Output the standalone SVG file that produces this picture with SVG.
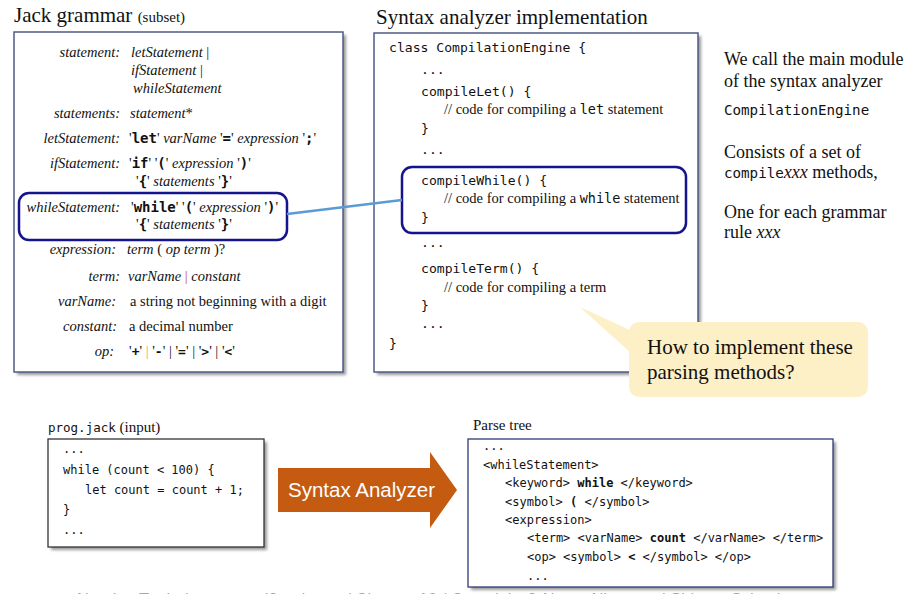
<svg xmlns="http://www.w3.org/2000/svg" width="913" height="594" viewBox="0 0 913 594">
<style>
.t{font-family:"Liberation Serif","Times New Roman",serif;fill:#111}
.i{font-style:italic}
.m{font-family:"DejaVu Sans Mono","Liberation Mono",monospace;fill:#111}
.b{font-weight:bold}
.g{font-size:14.5px}
.lbl{text-anchor:end}
.box{fill:#fff;stroke:#4f5b86;stroke-width:1.5}
.hl{fill:none;stroke:#14148c;stroke-width:2.5}
.sh{fill:#9a9a9a;filter:url(#blur)}
</style>
<defs>
<filter id="blur" x="-5%" y="-5%" width="110%" height="110%"><feGaussianBlur stdDeviation="1.5"/></filter>
</defs>

<!-- Left: Jack grammar -->
<g id="grammar">
<text class="t" x="14" y="22" font-size="21">Jack grammar <tspan font-size="15">(subset)</tspan></text>
<rect class="sh" x="17" y="35" width="329" height="340"/>
<rect class="box" x="14" y="32" width="329" height="340"/>
<g class="t g">
<text class="i lbl" x="120" y="57">statement:</text>
<text x="131" y="57"><tspan class="i">letStatement</tspan> |</text>
<text x="131" y="75"><tspan class="i">ifStatement</tspan> |</text>
<text class="i" x="133" y="93">whileStatement</text>
<text class="i lbl" x="120" y="118">statements:</text>
<text x="130" y="118"><tspan class="i">statement</tspan>*</text>
<text class="i lbl" x="120" y="143">letStatement:</text>
<text x="129" y="143">'<tspan class="m b" font-size="14">let</tspan>'  <tspan class="i">varName</tspan> '<tspan class="m b" font-size="14">=</tspan>'  <tspan class="i">expression</tspan> '<tspan class="m b" font-size="14">;</tspan>'</text>
<text class="i lbl" x="120" y="168">ifStatement:</text>
<text x="129" y="168">'<tspan class="m b" font-size="14">if</tspan>'  '<tspan class="m b" font-size="14">(</tspan>' <tspan class="i">expression</tspan> '<tspan class="m b" font-size="14">)</tspan>'</text>
<text x="136" y="186">'<tspan class="m b" font-size="14">{</tspan>' <tspan class="i">statements</tspan> '<tspan class="m b" font-size="14">}</tspan>'</text>
<text class="i lbl" x="120" y="212">whileStatement:</text>
<text x="131" y="212">'<tspan class="m b" font-size="14">while</tspan>'  '<tspan class="m b" font-size="14">(</tspan>' <tspan class="i">expression</tspan> '<tspan class="m b" font-size="14">)</tspan>'</text>
<text x="136" y="229">'<tspan class="m b" font-size="14">{</tspan>' <tspan class="i">statements</tspan> '<tspan class="m b" font-size="14">}</tspan>'</text>
<text class="i lbl" x="116" y="254">expression:</text>
<text x="127" y="254"><tspan class="i">term</tspan> ( <tspan class="i">op term</tspan> )?</text>
<text class="i lbl" x="120" y="281">term:</text>
<text x="128" y="281"><tspan class="i">varName</tspan> <tspan fill="#c0504d">|</tspan> <tspan class="i">constant</tspan></text>
<text class="i lbl" x="116" y="306">varName:</text>
<text x="130" y="306">a string not beginning with a digit</text>
<text class="i lbl" x="117" y="331">constant:</text>
<text x="129" y="331">a decimal number</text>
<text class="i lbl" x="114" y="356">op:</text>
<text x="129" y="356">'<tspan class="m b" font-size="13">+</tspan>' <tspan fill="#e0a060">|</tspan> '<tspan class="m b" font-size="13">-</tspan>' | '<tspan class="m b" font-size="13">=</tspan>' | '<tspan class="m b" font-size="13">&gt;</tspan>' | '<tspan class="m b" font-size="13">&lt;</tspan>'</text>
</g>
<rect id="whileRule" class="hl" x="19" y="193" width="268" height="47" rx="10"/>
</g>

<!-- Middle: implementation -->
<g id="implementation">
<text class="t" x="376" y="24" font-size="21">Syntax analyzer implementation</text>
<rect class="sh" x="377" y="36" width="324" height="339"/>
<rect class="box" x="374" y="33" width="324" height="339"/>
<g font-size="13.1">
<text class="m" x="389" y="52">class CompilationEngine {</text>
<text class="m" x="421" y="74">...</text>
<text class="m" x="421" y="96">compileLet() {</text>
<text class="t" x="444" y="114" font-size="14.5">// code for compiling a <tspan class="m" font-size="13.5">let</tspan> statement</text>
<text class="m" x="421" y="133">}</text>
<text class="m" x="421" y="154">...</text>
<text class="m" x="421" y="185">compileWhile() {</text>
<text class="t" x="444" y="203" font-size="14.5">// code for compiling a <tspan class="m" font-size="13.5">while</tspan> statement</text>
<text class="m" x="421" y="222">}</text>
<text class="m" x="421" y="247">...</text>
<text class="m" x="421" y="273">compileTerm() {</text>
<text class="t" x="444" y="292" font-size="14.5">// code for compiling a term</text>
<text class="m" x="421" y="310">}</text>
<text class="m" x="421" y="328">...</text>
<text class="m" x="389" y="348">}</text>
</g>
<rect id="whileMethod" class="hl" x="402" y="167" width="284" height="66" rx="10"/>
</g>

<!-- Connector -->
<g id="connectors">
<line x1="287" y1="214" x2="402" y2="200" stroke="#5b9bd5" stroke-width="2.5"/>
</g>

<!-- Right notes -->
<g id="notes" class="t" font-size="18">
<text x="724" y="65">We call the main module</text>
<text x="724" y="87">of the syntax analyzer</text>
<text class="m" x="724" y="115" font-size="14.2">CompilationEngine</text>
<text x="724" y="158">Consists of a set of</text>
<text x="724" y="178"><tspan class="m" font-size="14.2">compile</tspan><tspan class="i">xxx</tspan> methods,</text>
<text x="724" y="218">One for each grammar</text>
<text x="724" y="238">rule <tspan class="i">xxx</tspan></text>
</g>

<!-- Callout -->
<g id="callout">
<polygon points="580,307 632,331 632,354" fill="#fdefc6"/>
<rect x="629" y="322" width="239" height="75" rx="10" fill="#fdefc6"/>
<text class="t" x="647" y="354" font-size="21">How to implement these</text>
<text class="t" x="647" y="379" font-size="21">parsing methods?</text>
</g>

<!-- Bottom: input -->
<g id="input">
<text class="m" x="48" y="432" font-size="12.5">prog.jack<tspan class="t" font-size="15"> (input)</tspan></text>
<rect class="sh" x="51" y="442" width="216" height="108"/>
<rect x="48" y="439" width="216" height="108" fill="#fff" stroke="#333" stroke-width="1.3"/>
<g class="m" font-size="12">
<text x="63" y="453">...</text>
<text x="63" y="474">while (count &lt; 100) {</text>
<text x="85" y="494">let count = count + 1;</text>
<text x="63" y="514">}</text>
<text x="63" y="534">...</text>
</g>
</g>

<!-- Arrow -->
<g id="analyzer">
<polygon points="278,468 430,468 430,452 457,490 430,528 430,512 278,512" fill="#c55a11"/>
<text x="288" y="497" font-family="Liberation Sans, Arial, sans-serif" font-size="20.5" fill="#fff">Syntax Analyzer</text>
</g>

<!-- Parse tree -->
<g id="parsetree">
<text class="t" x="473" y="430" font-size="15">Parse tree</text>
<rect class="sh" x="471" y="442" width="365" height="148"/>
<rect x="468" y="439" width="365" height="148" fill="#fff" stroke="#2e3a78" stroke-width="1.3"/>
<g class="m" font-size="12">
<text x="483" y="450">...</text>
<text x="483" y="469">&lt;whileStatement&gt;</text>
<text x="505" y="487">&lt;keyword&gt; <tspan class="b">while</tspan> &lt;/keyword&gt;</text>
<text x="505" y="506">&lt;symbol&gt; <tspan class="b">(</tspan> &lt;/symbol&gt;</text>
<text x="505" y="524">&lt;expression&gt;</text>
<text x="527" y="542">&lt;term&gt; &lt;varName&gt; <tspan class="b">count</tspan> &lt;/varName&gt; &lt;/term&gt;</text>
<text x="527" y="561">&lt;op&gt; &lt;symbol&gt; <tspan class="b">&lt;</tspan> &lt;/symbol&gt; &lt;/op&gt;</text>
<text x="527" y="580">...</text>
</g>
</g>

<!-- Footer (clipped at the bottom edge, as in the reference) -->
<text x="77" y="605" font-family="Liberation Sans, Arial, sans-serif" font-size="16.5" fill="#a6a6a6">Nand to Tetris / www.nand2tetris.org / Chapter 10 / Copyright © Noam Nisan and Shimon Schocken</text>
</svg>
